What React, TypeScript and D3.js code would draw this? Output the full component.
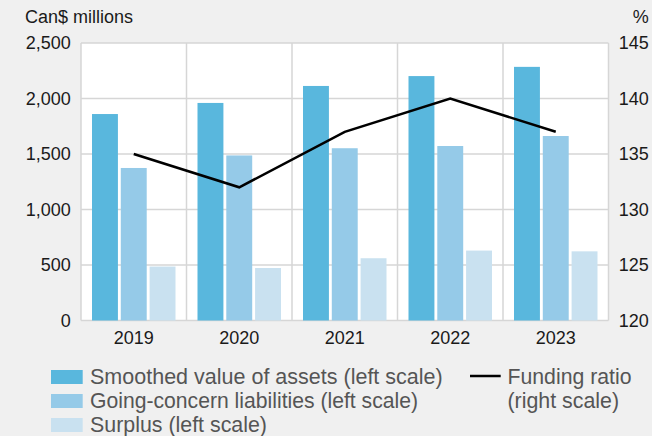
import React from "react";
import * as d3 from "d3";

const years = ["2019", "2020", "2021", "2022", "2023"];
const smoothedAssets = [1860, 1960, 2113, 2202, 2285];
const goingConcernLiabilities = [1374, 1487, 1552, 1572, 1662];
const surplus = [486, 473, 561, 630, 623];
const fundingRatio = [135, 132, 137, 140, 137];

const leftTicks = [0, 500, 1000, 1500, 2000, 2500];
const rightTicks = [120, 125, 130, 135, 140, 145];

const seriesNames = [
  "Smoothed value of assets (left scale)",
  "Going-concern liabilities (left scale)",
  "Surplus (left scale)",
];
const lineNames = ["Funding ratio", "(right scale)"];
const seriesColors = ["#59b7dd", "#95cae8", "#c9e1f0"];

const W = 652;
const H = 436;
const plot = { left: 81, right: 608.5, top: 43, bottom: 320.5 };
const FONT = "'Liberation Sans', Arial, Helvetica, sans-serif";

// legend label widths, so each label fills its column exactly
const seriesLabelWidths = [352.7, 328, 177];
const lineLabelWidths = [124, 111.5];

export default function App() {
  const x = d3
    .scaleBand<string>()
    .domain(years)
    .range([plot.left, plot.right])
    .paddingInner(0)
    .paddingOuter(0);
  const inner = d3
    .scaleBand<number>()
    .domain([0, 1, 2])
    .range([11, x.bandwidth() - 11])
    .paddingInner(0.1);
  const yLeft = d3.scaleLinear().domain([0, 2500]).range([plot.bottom, plot.top]);
  const yRight = d3.scaleLinear().domain([120, 145]).range([plot.bottom, plot.top]);

  const series = [smoothedAssets, goingConcernLiabilities, surplus];

  const line = d3
    .line<number>()
    .x((_, i) => (x(years[i]) as number) + x.bandwidth() / 2)
    .y((d) => yRight(d));

  const gridColor = "#d6d6d6";
  const tickColor = "#1a1a1a";
  const legendColor = "#555555";

  return (
    <svg
      width={W}
      height={H}
      style={{ position: "absolute", left: 0, top: 0, fontFamily: FONT }}
    >
      <rect x={0} y={0} width={W} height={H} fill="#f0f0f0" />
      <rect
        x={plot.left}
        y={plot.top}
        width={plot.right - plot.left}
        height={plot.bottom - plot.top}
        fill="#ffffff"
      />

      {/* horizontal grid */}
      {leftTicks.map((t) => (
        <line
          key={"h" + t}
          x1={plot.left}
          x2={plot.right}
          y1={yLeft(t)}
          y2={yLeft(t)}
          stroke={gridColor}
          strokeWidth={1.5}
        />
      ))}
      {/* vertical grid at band boundaries */}
      {years.map((yr) => (
        <line
          key={"v" + yr}
          x1={x(yr) as number}
          x2={x(yr) as number}
          y1={plot.top}
          y2={plot.bottom}
          stroke={gridColor}
          strokeWidth={1.5}
        />
      ))}
      <line
        x1={plot.right}
        x2={plot.right}
        y1={plot.top}
        y2={plot.bottom}
        stroke={gridColor}
        strokeWidth={1.5}
      />

      {/* bars */}
      {series.map((vals, si) =>
        vals.map((v, i) => (
          <rect
            key={`b${si}-${i}`}
            x={(x(years[i]) as number) + (inner(si) as number)}
            y={yLeft(v)}
            width={inner.bandwidth()}
            height={yLeft(0) - yLeft(v)}
            fill={seriesColors[si]}
          />
        ))
      )}

      {/* funding ratio line */}
      <path
        d={line(fundingRatio) || ""}
        fill="none"
        stroke="#000"
        strokeWidth={2.5}
        strokeLinejoin="miter"
      />

      {/* left axis labels */}
      {leftTicks.map((t) => (
        <text
          key={"l" + t}
          x={70.7}
          y={yLeft(t)}
          dy="0.36em"
          textAnchor="end"
          fontSize={18}
          fill={tickColor}
        >
          {d3.format(",")(t)}
        </text>
      ))}
      {/* right axis labels */}
      {rightTicks.map((t) => (
        <text
          key={"r" + t}
          x={648.7}
          y={yRight(t)}
          dy="0.36em"
          textAnchor="end"
          fontSize={18}
          fill={tickColor}
        >
          {t}
        </text>
      ))}
      {/* category labels */}
      {years.map((yr) => (
        <text
          key={"x" + yr}
          x={(x(yr) as number) + x.bandwidth() / 2}
          y={344.3}
          textAnchor="middle"
          fontSize={18}
          fill={tickColor}
        >
          {yr}
        </text>
      ))}

      <text x={25} y={22.5} fontSize={18} fill={tickColor}>
        Can$ millions
      </text>
      <text x={648.7} y={22.5} fontSize={18} fill={tickColor} textAnchor="end">
        %
      </text>

      {/* legend */}
      {seriesNames.map((name, i) => (
        <g key={"lg" + i} transform={`translate(51, ${370 + i * 24})`}>
          <rect x={0} y={0} width={31.7} height={14} fill={seriesColors[i]} />
          <text
            x={39}
            y={13.5}
            fontSize={21.5}
            fill={legendColor}
            textLength={seriesLabelWidths[i]}
            lengthAdjust="spacingAndGlyphs"
          >
            {name}
          </text>
        </g>
      ))}
      <line x1={470} x2={500.7} y1={376} y2={376} stroke="#000" strokeWidth={2.5} />
      {lineNames.map((name, i) => (
        <text
          key={"ln" + i}
          x={507.5}
          y={383.5 + i * 24}
          fontSize={21.5}
          fill={legendColor}
          textLength={lineLabelWidths[i]}
          lengthAdjust="spacingAndGlyphs"
        >
          {name}
        </text>
      ))}
    </svg>
  );
}
